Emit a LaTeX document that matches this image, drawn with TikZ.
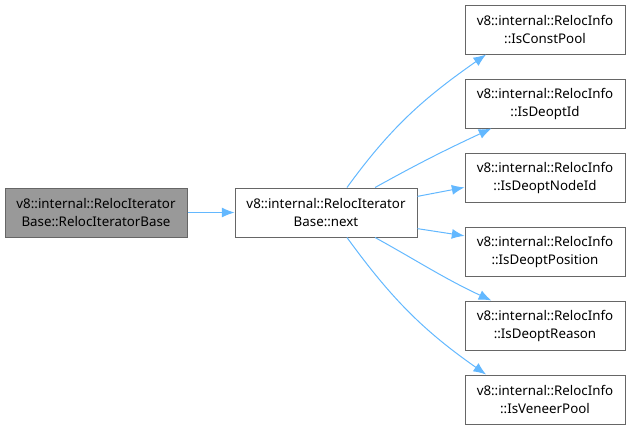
\documentclass[tikz,border=0pt]{standalone}
\usepackage{fontspec}
\setmainfont{Noto Sans}
\usetikzlibrary{arrows.meta}
\definecolor{boxline}{HTML}{666666}
\definecolor{boxfill}{HTML}{999999}
\definecolor{edgeblue}{HTML}{63B8FF}
\begin{document}
\begin{tikzpicture}[x=0.75pt,y=-0.75pt,
  box/.style={draw=boxline,line width=0.75pt,align=center,inner sep=0pt,
    minimum height=36.75pt,font=\fontsize{10}{13.5}\selectfont,text=black},
  widebox/.style={box,minimum width=136.5pt},
  rbox/.style={box,minimum width=120pt},
  edge/.style={draw=edgeblue,line width=0.75pt,-{Latex[length=9.5pt,width=7.5pt]}}]
\useasboundingbox (0,0) rectangle (631,426);
\node[widebox,fill=boxfill] (l) at (96,212.5) {v8::internal::RelocIterator\\Base::RelocIteratorBase};
\node[widebox,fill=white] (m) at (326,212.5) {v8::internal::RelocIterator\\Base::next};
\node[rbox] (r1) at (545,29.5) {v8::internal::RelocInfo\\::IsConstPool};
\node[rbox] (r2) at (545,103.5) {v8::internal::RelocInfo\\::IsDeoptId};
\node[rbox] (r3) at (545,177.5) {v8::internal::RelocInfo\\::IsDeoptNodeId};
\node[rbox] (r4) at (545,251.5) {v8::internal::RelocInfo\\::IsDeoptPosition};
\node[rbox] (r5) at (545,325.5) {v8::internal::RelocInfo\\::IsDeoptReason};
\node[rbox] (r6) at (545,399.5) {v8::internal::RelocInfo\\::IsVeneerPool};
\draw[edge] (l) -- (m);
\draw[edge] (m.50) to[out=54,in=215] (r1.203);
\draw[edge] (m.27) to[out=29,in=205] (r2.205);
\draw[edge] (m.10) -- (r3.187);
\draw[edge] (m.-10) -- (r4.169);
\draw[edge] (m.-27) to[out=-29,in=155] (r5.155);
\draw[edge] (m.-50) to[out=-54,in=145] (r6.157);
\end{tikzpicture}
\end{document}
